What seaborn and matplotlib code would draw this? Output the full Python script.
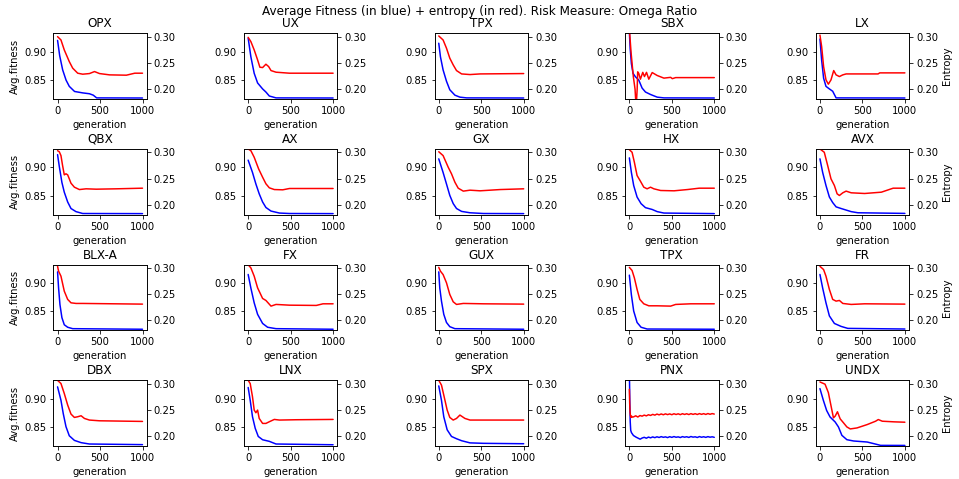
import matplotlib
matplotlib.use("Agg")
import matplotlib.pyplot as plt
import seaborn as sns

sns.set_style("ticks", {"axes.edgecolor": "black", "xtick.color": "black",
                        "ytick.color": "black", "text.color": "black",
                        "axes.labelcolor": "black"})
plt.rcParams.update({"axes.linewidth": 0.8, "xtick.major.size": 3.5,
                     "ytick.major.size": 3.5, "xtick.major.width": 0.8,
                     "ytick.major.width": 0.8, "font.family": ["DejaVu Sans"],
                     "font.size": 10})

suptitle_text = "Average Fitness (in blue) + entropy (in red). Risk Measure: Omega Ratio"
panel_titles = ["OPX", "UX", "TPX", "SBX", "LX",
                "QBX", "AX", "GX", "HX", "AVX",
                "BLX-A", "FX", "GUX", "TPX", "FR",
                "DBX", "LNX", "SPX", "PNX", "UNDX"]
x_ticks = [0, 500, 1000]
fit_ticks = [0.85, 0.90]
ent_ticks = [0.20, 0.25, 0.30]

# ---- Row 1 ----
opx_fit_x = [0, 25, 60, 100, 138, 200, 296, 375, 420, 460, 1000]
opx_fit_y = [0.920, 0.893, 0.868, 0.850, 0.839, 0.830, 0.8275, 0.826, 0.8235, 0.8187, 0.8185]
opx_ent_x = [0, 40, 79, 138, 178, 237, 296, 375, 435, 494, 613, 810, 909, 1000]
opx_ent_y = [0.300, 0.2937, 0.2747, 0.2525, 0.240, 0.2304, 0.2285, 0.2297, 0.2335, 0.2297, 0.2272, 0.2266, 0.2304, 0.2304]

ux_fit_x = [0, 32, 71, 111, 170, 209, 249, 328, 1000]
ux_fit_y = [0.924, 0.891, 0.862, 0.845, 0.8345, 0.829, 0.822, 0.8187, 0.8185]
ux_ent_x = [0, 32, 71, 111, 138, 170, 209, 241, 269, 328, 486, 1000]
ux_ent_y = [0.2987, 0.2905, 0.2747, 0.2557, 0.2418, 0.2411, 0.2475, 0.243, 0.2354, 0.2323, 0.2304, 0.2304]

tpx1_fit_x = [0, 20, 51, 91, 130, 190, 249, 328, 1000]
tpx1_fit_y = [0.915, 0.891, 0.868, 0.848, 0.833, 0.8235, 0.820, 0.8187, 0.8185]
tpx1_ent_x = [0, 51, 91, 130, 170, 209, 269, 368, 486, 1000]
tpx1_ent_y = [0.3013, 0.2937, 0.278, 0.259, 0.2462, 0.2354, 0.229, 0.2278, 0.229, 0.2297]

sbx_fit_x = [0, 10, 24, 43, 71, 111, 150, 190, 249, 328, 407, 1000]
sbx_fit_y = [0.935, 0.905, 0.879, 0.862, 0.856, 0.850, 0.836, 0.829, 0.8247, 0.820, 0.8187, 0.8185]
sbx_ent_x = [0, 20, 47, 67, 80, 92, 98, 111, 130, 158, 178, 202, 229, 269, 328, 407, 486, 506, 545, 1000]
sbx_ent_y = [0.315, 0.270, 0.2236, 0.200, 0.165, 0.200, 0.233, 0.230, 0.219, 0.232, 0.224, 0.232, 0.219, 0.2316, 0.226, 0.221, 0.2225, 0.220, 0.222, 0.222]

lx_fit_x = [0, 20, 43, 71, 111, 150, 190, 1000]
lx_fit_y = [0.9224, 0.885, 0.8534, 0.839, 0.8345, 0.8304, 0.8187, 0.8185]
lx_ent_x = [0, 20, 43, 71, 99, 130, 162, 190, 229, 269, 308, 684, 704, 1000]
lx_ent_y = [0.303, 0.281, 0.243, 0.2177, 0.2095, 0.2177, 0.2354, 0.2272, 0.224, 0.2272, 0.229, 0.229, 0.231, 0.231]

# ---- Row 2 ----
qbx_fit_x = [0, 20, 51, 79, 119, 158, 217, 296, 1000]
qbx_fit_y = [0.9224, 0.902, 0.8735, 0.8563, 0.839, 0.8275, 0.822, 0.8187, 0.8185]
qbx_ent_x = [0, 20, 40, 59, 79, 99, 119, 138, 158, 198, 257, 336, 455, 692, 1000]
qbx_ent_y = [0.303, 0.301, 0.2937, 0.2747, 0.257, 0.259, 0.257, 0.2494, 0.2411, 0.2335, 0.229, 0.2304, 0.2297, 0.2304, 0.2316]

ax_fit_x = [0, 51, 91, 130, 170, 209, 269, 368, 486, 1000]
ax_fit_y = [0.9127, 0.891, 0.8707, 0.8534, 0.839, 0.8293, 0.823, 0.8195, 0.8187, 0.8185]
ax_ent_x = [0, 32, 71, 123, 170, 209, 249, 308, 407, 486, 1000]
ax_ent_y = [0.3063, 0.303, 0.2905, 0.2684, 0.2525, 0.240, 0.2323, 0.229, 0.2285, 0.231, 0.231]

gx_fit_x = [0, 51, 91, 130, 170, 209, 269, 368, 526, 1000]
gx_fit_y = [0.915, 0.891, 0.8707, 0.8506, 0.8362, 0.8275, 0.8224, 0.820, 0.8187, 0.8185]
gx_ent_x = [0, 51, 111, 150, 190, 229, 289, 368, 486, 723, 1000]
gx_ent_y = [0.301, 0.2937, 0.2716, 0.259, 0.243, 0.2316, 0.226, 0.2278, 0.2266, 0.229, 0.2304]

hx_fit_x = [0, 24, 51, 91, 138, 190, 269, 328, 407, 1000]
hx_fit_y = [0.9167, 0.891, 0.868, 0.8477, 0.836, 0.829, 0.8258, 0.822, 0.8195, 0.8185]
hx_ent_x = [0, 32, 59, 91, 130, 170, 209, 249, 289, 368, 526, 684, 822, 1000]
hx_ent_y = [0.305, 0.300, 0.281, 0.2557, 0.245, 0.2335, 0.2304, 0.2335, 0.2304, 0.2272, 0.2266, 0.229, 0.2316, 0.2316]

avx_fit_x = [0, 32, 71, 111, 150, 190, 249, 368, 447, 1000]
avx_fit_y = [0.915, 0.891, 0.868, 0.8477, 0.838, 0.8304, 0.8275, 0.822, 0.820, 0.8189]
avx_ent_x = [0, 51, 91, 130, 170, 202, 229, 269, 308, 368, 526, 723, 862, 1000]
avx_ent_y = [0.3063, 0.300, 0.2747, 0.2494, 0.2367, 0.2209, 0.2177, 0.2228, 0.226, 0.2228, 0.2215, 0.224, 0.2316, 0.2316]

# ---- Row 3 ----
blxa_fit_x = [0, 12, 28, 51, 79, 119, 178, 1000]
blxa_fit_y = [0.9196, 0.891, 0.862, 0.839, 0.8264, 0.822, 0.8195, 0.8185]
blxa_ent_x = [0, 12, 40, 79, 119, 158, 217, 296, 1000]
blxa_ent_y = [0.303, 0.2937, 0.2842, 0.2557, 0.240, 0.2335, 0.2323, 0.2323, 0.231]

fx_fit_x = [0, 32, 71, 111, 170, 229, 328, 1000]
fx_fit_y = [0.915, 0.891, 0.865, 0.8448, 0.8287, 0.822, 0.8195, 0.8185]
fx_ent_x = [0, 32, 71, 111, 170, 209, 269, 328, 486, 802, 881, 1000]
fx_ent_y = [0.306, 0.300, 0.2842, 0.262, 0.2418, 0.238, 0.2272, 0.2304, 0.229, 0.2285, 0.2316, 0.2316]

gux_fit_x = [0, 12, 32, 59, 91, 130, 190, 1000]
gux_fit_y = [0.9196, 0.891, 0.868, 0.8448, 0.8304, 0.823, 0.8195, 0.8185]
gux_ent_x = [0, 20, 51, 91, 130, 170, 209, 289, 526, 1000]
gux_ent_y = [0.301, 0.2937, 0.2873, 0.2716, 0.2494, 0.2354, 0.2304, 0.2323, 0.2316, 0.231]

tpx2_fit_x = [0, 24, 51, 91, 138, 209, 1000]
tpx2_fit_y = [0.9138, 0.879, 0.8506, 0.8304, 0.822, 0.8189, 0.8185]
tpx2_ent_x = [0, 32, 59, 91, 123, 170, 229, 328, 486, 545, 723, 1000]
tpx2_ent_y = [0.301, 0.295, 0.281, 0.259, 0.240, 0.2316, 0.2278, 0.2278, 0.2272, 0.2304, 0.2316, 0.2316]

fr_fit_x = [0, 32, 71, 111, 170, 249, 328, 1000]
fr_fit_y = [0.915, 0.891, 0.865, 0.842, 0.8287, 0.8235, 0.820, 0.8189]
fr_ent_x = [0, 43, 71, 111, 150, 190, 229, 269, 368, 526, 1000]
fr_ent_y = [0.303, 0.2968, 0.2842, 0.259, 0.240, 0.2367, 0.238, 0.2323, 0.2304, 0.2316, 0.231]

# ---- Row 4 ----
dbx_fit_x = [0, 40, 67, 99, 138, 198, 277, 375, 1000]
dbx_fit_y = [0.9207, 0.897, 0.8735, 0.8506, 0.8345, 0.8264, 0.8224, 0.820, 0.8189]
dbx_ent_x = [0, 40, 79, 119, 158, 198, 237, 277, 316, 375, 494, 1000]
dbx_ent_y = [0.306, 0.300, 0.281, 0.259, 0.2418, 0.2354, 0.2367, 0.2386, 0.2335, 0.2304, 0.229, 0.2278]

lnx_fit_x = [0, 24, 51, 83, 119, 170, 249, 328, 1000]
lnx_fit_y = [0.9196, 0.897, 0.868, 0.8477, 0.8333, 0.8275, 0.8247, 0.820, 0.8187]
lnx_ent_x = [0, 24, 51, 71, 91, 111, 130, 170, 209, 249, 308, 368, 565, 1000]
lnx_ent_y = [0.306, 0.300, 0.2747, 0.2494, 0.2443, 0.2494, 0.2335, 0.224, 0.224, 0.2272, 0.2316, 0.2304, 0.231, 0.2316]

spx_fit_x = [0, 32, 59, 99, 150, 209, 269, 368, 526, 1000]
spx_fit_y = [0.9224, 0.897, 0.868, 0.845, 0.8333, 0.8293, 0.8258, 0.822, 0.8212, 0.8205]
spx_ent_x = [0, 32, 59, 99, 130, 170, 209, 249, 308, 368, 526, 1000]
spx_ent_y = [0.306, 0.297, 0.278, 0.2494, 0.2354, 0.2304, 0.2335, 0.2399, 0.2335, 0.2304, 0.2304, 0.2304]

pnx_fit_x = [0, 5, 10, 16, 25, 48, 80, 127, 150, 175, 200, 225, 250, 275, 300, 325, 350, 375,
             400, 425, 450, 475, 500, 525, 550, 575, 600, 625, 650, 675, 700, 725, 750, 775,
             800, 825, 850, 875, 900, 925, 950, 975, 1000]
pnx_fit_y = [0.950, 0.900, 0.860, 0.844, 0.840, 0.835, 0.832, 0.8285, 0.8305, 0.8318, 0.8302,
             0.8322, 0.8309, 0.8325, 0.8312, 0.8327, 0.8315, 0.8330, 0.8318, 0.8326, 0.8313,
             0.8329, 0.8317, 0.8331, 0.8319, 0.8326, 0.8314, 0.8330, 0.8320, 0.8328, 0.8316,
             0.8332, 0.8321, 0.8327, 0.8315, 0.8331, 0.8319, 0.8328, 0.8317, 0.8330, 0.8320,
             0.8327, 0.8318]
pnx_ent_x = [0, 4, 8, 12, 18, 25, 35, 50, 75, 100, 125, 150, 175, 200, 225, 250, 275, 300,
             325, 350, 375, 400, 425, 450, 475, 500, 525, 550, 575, 600, 625, 650, 675, 700,
             725, 750, 775, 800, 825, 850, 875, 900, 925, 950, 975, 1000]
pnx_ent_y = [0.289, 0.262, 0.246, 0.240, 0.2355, 0.2380, 0.2360, 0.2365, 0.2385, 0.2362,
             0.2390, 0.2378, 0.2398, 0.2384, 0.2405, 0.2392, 0.2412, 0.2398, 0.2418, 0.2403,
             0.2420, 0.2405, 0.2422, 0.2408, 0.2421, 0.2406, 0.2424, 0.2410, 0.2423, 0.2407,
             0.2425, 0.2411, 0.2424, 0.2409, 0.2426, 0.2412, 0.2425, 0.2410, 0.2427, 0.2413,
             0.2426, 0.2411, 0.2428, 0.2414, 0.2427, 0.2418]

undx_fit_x = [0, 40, 79, 119, 179, 218, 258, 317, 397, 556, 635, 714, 1000]
undx_fit_y = [0.9176, 0.897, 0.879, 0.8676, 0.8588, 0.850, 0.8353, 0.8276, 0.8253, 0.8235, 0.8206, 0.8176, 0.8175]
undx_ent_x = [0, 60, 99, 139, 159, 179, 206, 238, 278, 317, 357, 436, 556, 655, 687, 734, 873, 1000]
undx_ent_y = [0.303, 0.2987, 0.2827, 0.2506, 0.2346, 0.2378, 0.2462, 0.2327, 0.225, 0.2173, 0.2135, 0.2154, 0.2218, 0.2282, 0.2314, 0.2282, 0.227, 0.2263]

fit_series = [
    (opx_fit_x, opx_fit_y), (ux_fit_x, ux_fit_y), (tpx1_fit_x, tpx1_fit_y), (sbx_fit_x, sbx_fit_y), (lx_fit_x, lx_fit_y),
    (qbx_fit_x, qbx_fit_y), (ax_fit_x, ax_fit_y), (gx_fit_x, gx_fit_y), (hx_fit_x, hx_fit_y), (avx_fit_x, avx_fit_y),
    (blxa_fit_x, blxa_fit_y), (fx_fit_x, fx_fit_y), (gux_fit_x, gux_fit_y), (tpx2_fit_x, tpx2_fit_y), (fr_fit_x, fr_fit_y),
    (dbx_fit_x, dbx_fit_y), (lnx_fit_x, lnx_fit_y), (spx_fit_x, spx_fit_y), (pnx_fit_x, pnx_fit_y), (undx_fit_x, undx_fit_y),
]
ent_series = [
    (opx_ent_x, opx_ent_y), (ux_ent_x, ux_ent_y), (tpx1_ent_x, tpx1_ent_y), (sbx_ent_x, sbx_ent_y), (lx_ent_x, lx_ent_y),
    (qbx_ent_x, qbx_ent_y), (ax_ent_x, ax_ent_y), (gx_ent_x, gx_ent_y), (hx_ent_x, hx_ent_y), (avx_ent_x, avx_ent_y),
    (blxa_ent_x, blxa_ent_y), (fx_ent_x, fx_ent_y), (gux_ent_x, gux_ent_y), (tpx2_ent_x, tpx2_ent_y), (fr_ent_x, fr_ent_y),
    (dbx_ent_x, dbx_ent_y), (lnx_ent_x, lnx_ent_y), (spx_ent_x, spx_ent_y), (pnx_ent_x, pnx_ent_y), (undx_ent_x, undx_ent_y),
]

fig, axes = plt.subplots(4, 5, figsize=(959 / 72, 479 / 72), dpi=72)
fig.subplots_adjust(left=0.0556, right=0.948, top=0.9305, bottom=0.0689,
                    wspace=1.04, hspace=0.756)

for i, ax in enumerate(axes.flat):
    row, col = divmod(i, 5)
    fx, fy = fit_series[i]
    ex, ey = ent_series[i]
    sns.lineplot(x=fx, y=fy, ax=ax, color="blue", linewidth=1.5)
    ax2 = ax.twinx()
    sns.lineplot(x=ex, y=ey, ax=ax2, color="red", linewidth=1.5)
    ax.set_xlim(-50, 1050)
    ax.set_ylim(0.8165, 0.9325)
    ax2.set_ylim(0.181, 0.3064)
    ax.set_xticks(x_ticks)
    ax.set_yticks(fit_ticks)
    ax2.set_yticks(ent_ticks)
    ax.set_title(panel_titles[i], fontsize=12)
    ax.set_xlabel("generation")
    ax.set_ylabel("Avg.fitness" if col == 0 else "")
    ax2.set_ylabel("Entropy" if col == 4 else "")
    for a in (ax, ax2):
        for s in a.spines.values():
            s.set_visible(True)

fig.text(0.5, 1 - 12 / 479, suptitle_text, ha="center", va="center", fontsize=12)

fig.savefig("out.png", dpi=72)
